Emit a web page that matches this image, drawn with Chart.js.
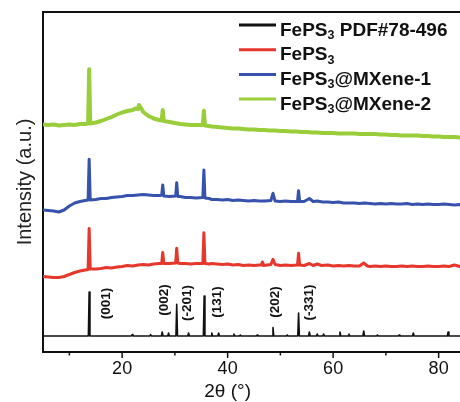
<!DOCTYPE html>
<html><head><meta charset="utf-8">
<script src="https://cdn.jsdelivr.net/npm/chart.js@4.4.1/dist/chart.umd.min.js"></script>
<style>
html,body{margin:0;padding:0;overflow:hidden;background:#fff}
#wrap{position:absolute;left:0;top:0;width:466px;height:402px}
</style>
</head><body>
<div id="wrap"><canvas id="c" width="466" height="402"></canvas></div>
<script>
// ---- data ----
const seriesLabels = ['FePS₃ PDF#78-496', 'FePS₃', 'FePS₃@MXene-1', 'FePS₃@MXene-2'];
const seriesColors = ['#111111', '#e5372c', '#3652ad', '#9acd3a'];

// reference pattern (stick peaks)
const pdfAngles  = [13.75, 21.9, 25.4, 27.6, 28.8, 30.35, 32.6, 35.55, 37.0, 38.3, 41.2, 42.4, 45.6, 48.6, 51.3, 53.45, 55.5, 57.0, 58.2, 61.3, 63.0, 65.8, 68.4, 72.5, 75.2, 81.8];
const pdfHeights = [44, 1.5, 1.5, 4, 3, 31.7, 3, 40, 3, 3, 2, 1, 1, 8.5, 1, 23, 4, 2, 2, 4, 2, 5, 1, 1, 3, 4];
const pdfBase = 16;

const redX = [5,6,7,8,9,10,11,12,13,13.55,13.75,13.95,15,16,17,18,19,20,21,22,23,24,25,26,27,27.5,27.7,27.9,29,30.15,30.35,30.55,31,32,33,34,35.3,35.5,35.7,36.5,37,38,39,40,41,42,43,44,45,46,46.4,46.6,46.8,47.5,48.2,48.6,49.0,49.5,50,51,52,53.25,53.45,53.65,54.5,55.5,56.2,57,57.8,59,60,61,62,63,64,65,65.8,66.5,67,68,69,70,71,72,73,74,75,76,77,78,79,80,81,82,83,84,85];
const redY = [75.5,75,74.5,74.5,75.5,77.5,79.5,81,82,82.5,123.5,83,83,83.5,84.5,84,85,85.5,86.5,86,87,87.5,87,88,88.5,88.5,99.5,88.5,88.5,89,103.7,89,88.5,88.5,88,88.5,88.5,119.3,88.5,88,88.5,88,87.5,88,87,87.5,86.5,87,86.5,87,87,90,86.5,87,87.5,92.7,87.5,87,86.5,87,86.5,87,98.7,87,86.5,88.5,86.5,88,86.5,87,86,86.5,86,86.5,86,86,89,86,85.5,86,85.5,86,85.5,85.5,86,85.5,86,85.5,85.5,86,85.5,85.5,86,85.5,87,85.5,85.5];

const blueX = [5,6,7,8,9,10,11,12,13,13.55,13.75,13.95,15,16,17,18,19,20,21,22,23,24,25,26,27.3,27.5,27.7,27.9,29,30.15,30.35,30.55,31,32,33,34,35.3,35.5,35.7,36.5,37,38,39,40,41,42,43,44,45,46,47,48.2,48.6,49.0,50,51,52,53.25,53.45,53.65,54.5,55.5,56.2,57,58,59,60,61,62,63,64,65,66,67,68,69,70,71,72,73,74,75,76,77,78,79,80,81,82,83,84,85];
const blueY = [142,141.5,141,140,142,146,149,150.5,151.5,152,192.7,152,152.5,153.5,153.5,154.5,155,155.5,156.5,156.5,157,157.5,157,156.5,156.5,157,167,156,155.5,156,169.3,155.5,155.5,154.5,154.5,154,154.5,182,154,153.5,152.5,152.5,152,152.5,151.5,152,151.5,151,151.5,151,151,151.5,158.7,151,150.5,151,150.5,150.5,161.3,150.5,150.5,153.5,150.5,151,150,150,149.5,150,149,149,149,148.5,149,148.5,148,148.5,148,148.5,148,148,148.5,147.5,148,147.5,148,147.5,147.5,148,147.5,147,147.5,147];

const greenX = [5,6,7,8,9,10,11,12,13,13.55,13.75,13.95,15,16,17,18,19,20,21,22,22.5,23,23.2,23.5,24,25,26,27,27.5,27.7,27.9,29,30,31,32,33,34,35.3,35.5,35.7,36.5,37,38,39,40,41,42,43,44,45,46,47,48,49,50,51,52,53,54,55,56,57,58,59,60,61,62,63,64,65,66,67,68,69,70,71,72,73,74,75,76,77,78,79,80,81,82,83,84,85];
const greenY = [227.5,227,227.5,226.5,227,227.5,227,228,228,228.5,282.7,228.5,229.5,231,233,235,237.5,239.5,241,242,243.5,243,247,244.5,240,236,233.5,232,231.5,242,231,230,229,228,227.5,227,227,227,241.3,226.5,226,225.5,225,224.5,224,223.5,223.5,223,222.5,222.5,222,222,221.5,221.5,221,221,220.5,220.5,220,220,219.5,219.5,219,219,219,218.5,218.5,218.5,218.5,218,218,218,218,217.5,217.5,217,217,216.5,216.5,216.5,216.5,216,216,215.5,215.5,215,215,215,214.5,214.5];

const xTickValues = [10,20,30,40,50,60,70,80];
const xTickLabels = ['', '20', '', '40', '', '60', '', '80'];
const hklLabels = ['(001)', '(002)', '(-201)', '(131)', '(202)', '(-331)'];
const hklAngles = [16.95, 28.0, 32.3, 38.0, 49.1, 55.4];
const hklLevels = [48.5, 52, 49, 50, 50, 49.5];

// ---- build library data ----
function pts(xs, ys){ return xs.map((x,i)=>({x:x, y:ys[i]})); }
const pdfPoints = [{x:5, y:pdfBase}];
pdfAngles.forEach((a,i)=>{
  pdfPoints.push({x:a-0.15, y:pdfBase});
  pdfPoints.push({x:a, y:pdfBase+pdfHeights[i]});
  pdfPoints.push({x:a+0.15, y:pdfBase});
});
pdfPoints.push({x:85, y:pdfBase});

const FONT = "'Liberation Sans', Arial, sans-serif";
Chart.defaults.font.family = FONT;

const decor = {
  id:'decor',
  afterDraw(chart){
    const ctx = chart.ctx, a = chart.chartArea;
    const xs = chart.scales.x, ys = chart.scales.y;
    ctx.save();
    // top frame line
    ctx.strokeStyle = '#111'; ctx.lineWidth = 2;
    ctx.beginPath(); ctx.moveTo(a.left-1, a.top); ctx.lineTo(a.right+2, a.top); ctx.stroke();
    // x tick marks (outward)
    ctx.lineWidth = 1.5;
    xTickValues.forEach((v,i)=>{
      const px = xs.getPixelForValue(v);
      const len = xTickLabels[i] ? 5 : 2.5;
      ctx.beginPath(); ctx.moveTo(px, a.bottom); ctx.lineTo(px, a.bottom+1+len); ctx.stroke();
    });
    // x title
    ctx.fillStyle = '#111';
    ctx.font = '19px ' + FONT;
    ctx.textAlign = 'center'; ctx.textBaseline = 'alphabetic';
    ctx.fillText('2θ (°)', xs.getPixelForValue(40), 397);
    // hkl labels
    ctx.font = 'bold 13.5px ' + FONT;
    hklLabels.forEach((t,i)=>{
      ctx.save();
      ctx.translate(xs.getPixelForValue(hklAngles[i]), ys.getPixelForValue(hklLevels[i]));
      ctx.rotate(-Math.PI/2);
      ctx.textAlign='center'; ctx.textBaseline='middle';
      ctx.fillText(t, 0, 0);
      ctx.restore();
    });
    // legend
    chart.data.datasets.forEach((ds,i)=>{
      const ly = 25 + i*24.7;
      ctx.strokeStyle = ds.borderColor; ctx.lineWidth = 3;
      ctx.beginPath(); ctx.moveTo(239, ly); ctx.lineTo(276, ly); ctx.stroke();
      let x = 280; const base = ly + 10.5;
      ctx.fillStyle = '#111'; ctx.textAlign='left'; ctx.textBaseline='alphabetic';
      const parts = ds.label.split('₃');
      parts.forEach((p,j)=>{
        ctx.font = 'bold 19px ' + FONT;
        ctx.fillText(p, x, base); x += ctx.measureText(p).width;
        if (j < parts.length-1){
          ctx.font = 'bold 12.5px ' + FONT;
          ctx.fillText('3', x, base+3.5); x += ctx.measureText('3').width;
        }
      });
    });
    ctx.restore();
  }
};

new Chart(document.getElementById('c'), {
  type:'line',
  data:{ datasets:[
    {label:seriesLabels[0], data:pdfPoints, borderColor:seriesColors[0], borderWidth:1.6},
    {label:seriesLabels[1], data:pts(redX, redY), borderColor:seriesColors[1], borderWidth:3},
    {label:seriesLabels[2], data:pts(blueX, blueY), borderColor:seriesColors[2], borderWidth:3},
    {label:seriesLabels[3], data:pts(greenX, greenY), borderColor:seriesColors[3], borderWidth:4}
  ]},
  options:{
    responsive:false, animation:false, devicePixelRatio:1,
    layout:{padding:{top:12, right:1, left:0, bottom:0}},
    plugins:{legend:{display:false}, tooltip:{enabled:false}},
    elements:{point:{radius:0}, line:{tension:0, borderJoinStyle:'round'}},
    scales:{
      x:{type:'linear', min:5, max:85,
        afterFit(s){ s.height = 50; },
        afterBuildTicks(s){ s.ticks = xTickValues.map(v=>({value:v})); },
        ticks:{callback:(v,i)=>xTickLabels[i], font:{size:18}, color:'#111', padding:-2, maxRotation:0, autoSkip:false},
        grid:{display:false}, border:{display:true, color:'#111', width:2}},
      y:{type:'linear', min:0, max:340,
        afterFit(s){ s.width = 43; },
        ticks:{display:false}, grid:{display:false}, border:{display:true, color:'#111', width:2},
        title:{display:true, text:'Intensity (a.u.)', font:{size:20}, color:'#222', padding:{top:13, bottom:0}}}
    }
  },
  plugins:[decor]
});
</script>
</body></html>
